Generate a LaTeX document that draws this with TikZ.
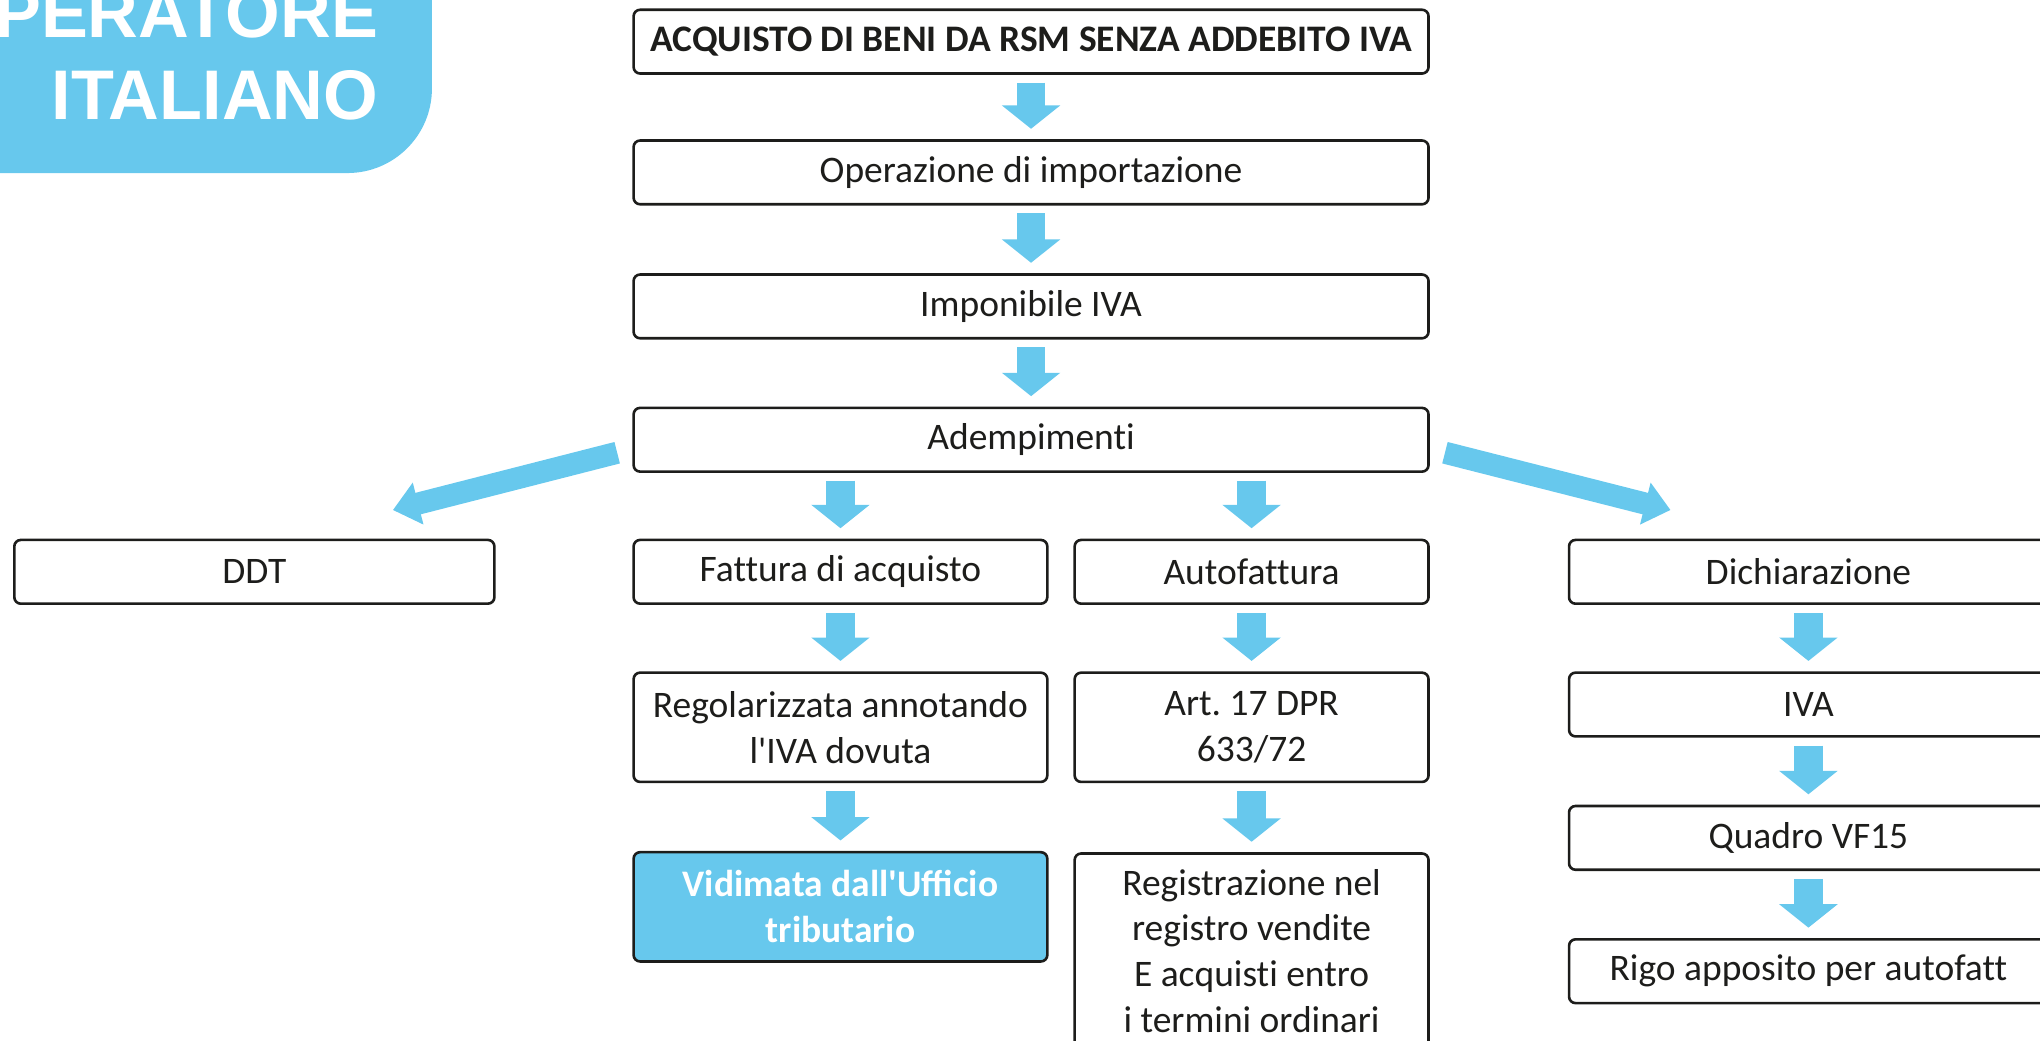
\documentclass[tikz,border=0pt]{standalone}
\usepackage{fontspec}
\setmainfont{Carlito}[Ligatures={NoCommon}]
\newfontfamily\ligfont{Carlito}
\newfontfamily\titlefont{Liberation Sans}
\usetikzlibrary{arrows.meta,calc}
\definecolor{ltblue}{RGB}{103,200,237}
\definecolor{boxline}{RGB}{29,29,27}

\begin{document}
\begin{tikzpicture}[x=0.5pt, y=-0.5pt,
        box/.style={draw=boxline, line width=1pt, rounded corners=2.5pt, text=boxline, align=center,
            inner sep=0pt, font=\fontsize{14.4}{17.6}\selectfont},
        boldbox/.style={box, font=\fontsize{14.4}{17.6}\selectfont\bfseries},
        downarrow/.style={ltblue, line width=11pt, -{Triangle[width=22pt,length=9pt]},
            shorten <=3pt, shorten >=4pt},
        sidearrow/.style={ltblue, line width=8.5pt, -{Triangle[width=16pt,length=10pt]},
            shorten <=6pt},
        titletext/.style={text=white, inner sep=0pt, anchor=base east,
            font=\titlefont\bfseries\fontsize{27}{31}\selectfont}]
                \useasboundingbox (0,0) rectangle (1568,800);
                \clip (0,0) rectangle (1568,800);

                \fill[ltblue] (-20,-20) -- (332,-20) -- (332,68) arc (0:90:65) -- (-20,133) -- cycle;
                \node[titletext] (tit1) at (291,29) {OPERATORE};
                \node[titletext] (tit2) at (291,91.5) {ITALIANO};

                \node[boldbox, minimum width=305.5pt, minimum height=24.5pt] (acq) at (792.5,32) {ACQUISTO DI BENI DA RSM SENZA ADDEBITO IVA};
                \node[box, minimum width=305.5pt, minimum height=24.5pt] (oper) at (792.5,132.5) {Operazione di importazione};
                \node[box, minimum width=305.5pt, minimum height=24.5pt] (impon) at (792.5,235.5) {Imponibile IVA};
                \node[box, minimum width=305.5pt, minimum height=24.5pt] (ademp) at (792.5,338) {Adempimenti};

                \node[box, minimum width=184.5pt, minimum height=24.5pt] (ddt) at (195.5,439.5) {DDT};
                \node[box, minimum width=159pt, minimum height=24.5pt] (fatt) at (646,439.5) {Fattura di acquisto};
                \node[box, minimum width=136pt, minimum height=24.5pt] (auto) at (962,439.5) {Autofattura};
                \node[box, minimum width=184pt, minimum height=24.5pt] (dich) at (1390,439.5) {Dichiarazione};

                \node[box, minimum width=159pt, minimum height=42pt] (regol) at (646,559) {Regolarizzata annotando\\l\textquotesingle IVA dovuta};
                \node[box, minimum width=136pt, minimum height=42pt] (art) at (962,559) {Art.\ 17 DPR\\633/72};
                \node[box, minimum width=184pt, minimum height=24.5pt] (iva) at (1390,541.5) {IVA};

                \node[boldbox, fill=ltblue, text=white, minimum width=159pt, minimum height=42pt] (vidim) at (646,697) {\ligfont Vidimata dall\textquotesingle Ufficio\\tributario};
                \node[box, minimum width=136pt, inner ysep=6pt, anchor=north] (regis) at (962,655) {Registrazione nel\\registro vendite\\E acquisti entro\\i termini ordinari};
                \node[box, minimum width=184pt, minimum height=24.5pt] (quadro) at (1390,644) {Quadro VF15};
                \node[box, minimum width=184pt, minimum height=24.5pt] (rigo) at (1390,746.5) {Rigo apposito per autofatt};

                \coordinate (ddtin) at (302,392);
                \coordinate (dichin) at (1284,392);

                \draw[downarrow] (acq) -- (oper);
                \draw[downarrow] (oper) -- (impon);
                \draw[downarrow] (impon) -- (ademp);
                \draw[downarrow] (ademp.south -| fatt) -- (fatt.north);
                \draw[downarrow] (ademp.south -| auto) -- (auto.north);
                \draw[sidearrow] ([yshift=-3.5pt]ademp.west) -- (ddtin);
                \draw[sidearrow] ([yshift=-3.5pt]ademp.east) -- (dichin);

                \draw[downarrow] (fatt) -- (regol);
                \draw[downarrow] (regol) -- (vidim);
                \draw[downarrow] (auto) -- (art);
                \draw[downarrow] (art.south) -- (regis.north);
                \draw[downarrow] (dich) -- (iva);
                \draw[downarrow] (iva) -- (quadro);
                \draw[downarrow] (quadro) -- (rigo);

            \end{tikzpicture}
\end{document}
